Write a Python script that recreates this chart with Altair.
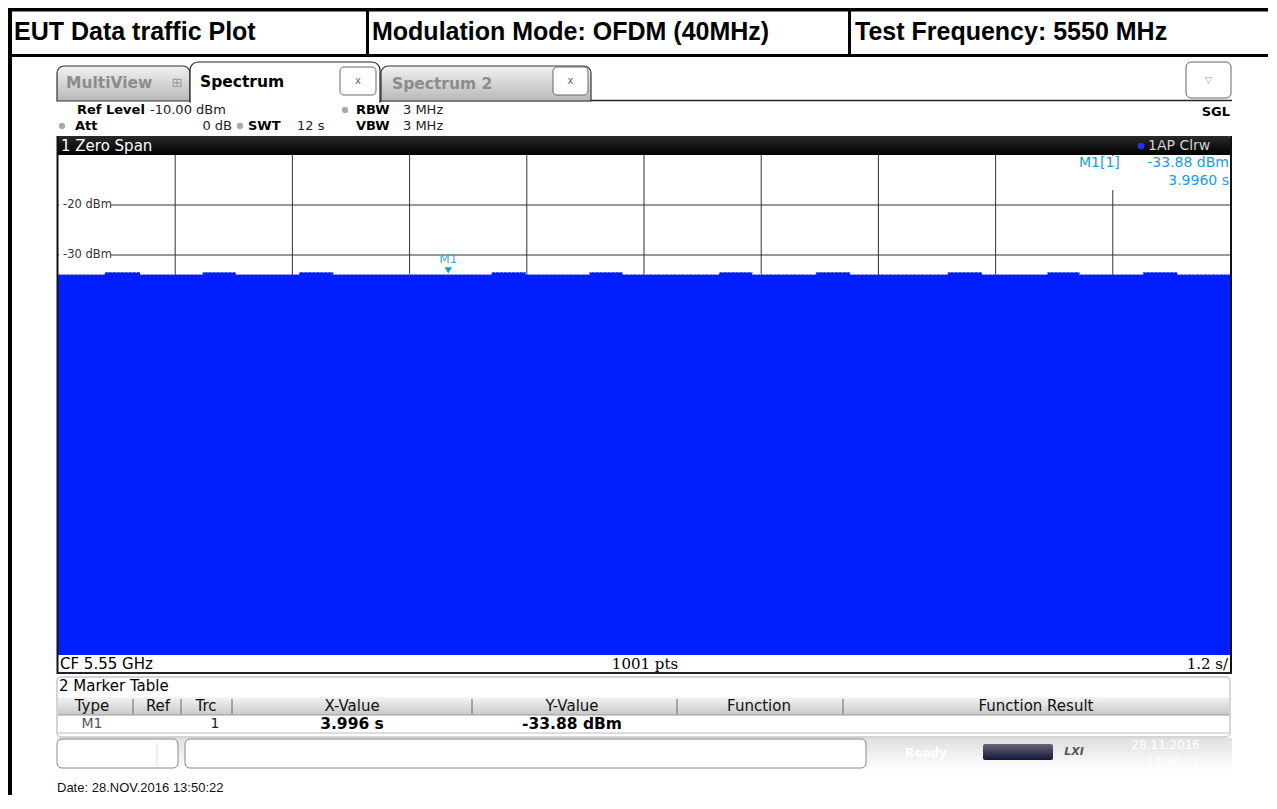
import altair as alt
import pandas as pd

# ---------------- values ----------------
time_span = [0, 12]              # s  (zero span, 1.2 s/div)
level_range = [-110, -10]        # dBm (ref level -10 dBm, 10 dB/div)
x_grid = [1.2, 2.4, 3.6, 4.8, 6.0, 7.2, 8.4, 9.6, 10.8]
y_grid = [-20, -30, -40, -50, -60, -70, -80, -90, -100]
y_label_vals = [-20, -30]
y_label_text = ["-20 dBm", "-30 dBm"]
base_level = -33.88
burst_level = -33.45
burst_start = [0.48, 1.48, 2.47, 4.44, 5.44, 6.77, 7.76, 9.11, 10.13, 11.11]
burst_end = [0.84, 1.82, 2.82, 4.79, 5.78, 7.11, 8.11, 9.46, 10.46, 11.46]
marker_name = ["M1"]
marker_time = [3.996]
marker_level = [-33.88]

header_cells = ["EUT Data traffic Plot", "Modulation Mode: OFDM (40MHz)", "Test Frequency: 5550 MHz"]
table_headers = ["Type", "Ref", "Trc", "X-Value", "Y-Value", "Function", "Function Result"]
table_row = ["M1", "", "1", "3.996 s", "-33.88 dBm", "", ""]

# ---------------- trace table ----------------
t_vals, v_vals = [time_span[0]], [base_level]
for s, e in zip(burst_start, burst_end):
    t_vals += [s, s, e, e]
    v_vals += [base_level, burst_level, burst_level, base_level]
t_vals.append(time_span[1])
v_vals.append(base_level)
trace = pd.DataFrame({"t": t_vals, "v": v_vals})
marker = pd.DataFrame({"name": marker_name, "t": marker_time, "v": marker_level})

X = alt.X("t:Q", scale=alt.Scale(domain=time_span, nice=False, zero=False), axis=None)
Y = alt.Y("v:Q", scale=alt.Scale(domain=level_range, nice=False, zero=False), axis=None)

# ---------------- helpers for the instrument chrome (page pixels) ----------------
OX, OY = 58, 155
one = pd.DataFrame({"k": [0]})
UI = "DejaVu Sans"
HEAD = "Liberation Sans"


def R(x1, y1, x2, y2, **kw):
    return alt.Chart(one).mark_rect(**kw).encode(
        x=alt.value(x1 - OX), x2=alt.value(x2 - OX),
        y=alt.value(y1 - OY), y2=alt.value(y2 - OY))


def L(x1, y1, x2, y2, color="#000", w=1, **kw):
    return alt.Chart(one).mark_rule(color=color, strokeWidth=w, **kw).encode(
        x=alt.value(x1 - OX), x2=alt.value(x2 - OX),
        y=alt.value(y1 - OY), y2=alt.value(y2 - OY))


def T(x, y, s, size=13, color="#000", weight="normal", align="left", font=UI, **kw):
    return alt.Chart(one).mark_text(text=s, fontSize=size, color=color, fontWeight=weight,
                                    align=align, baseline="middle", font=font, **kw).encode(
        x=alt.value(x - OX), y=alt.value(y - OY))


def D(x, y, color="#aaa", size=40):
    return alt.Chart(one).mark_point(filled=True, color=color, size=size, opacity=1).encode(
        x=alt.value(x - OX), y=alt.value(y - OY))


def grad(c1, c2):
    return alt.LinearGradient(gradient="linear", x1=0, x2=0, y1=0, y2=1,
                              stops=[alt.GradientStop(color=c1, offset=0),
                                     alt.GradientStop(color=c2, offset=1)])


layers = []

# header table
layers += [
    L(8, 9.5, 1268, 9.5, w=4),
    L(8, 55.5, 1268, 55.5, w=3),
    L(10, 8, 10, 800, w=4),
    L(367.5, 8, 367.5, 57, w=3),
    L(849.5, 8, 849.5, 57, w=3),
    T(14, 32, header_cells[0], size=25, weight="bold", font=HEAD),
    T(372, 32, header_cells[1], size=25, weight="bold", font=HEAD),
    T(855, 32, header_cells[2], size=25, weight="bold", font=HEAD),
]

# tabs
layers += [
    L(380, 100.5, 1232, 100.5, color="#222", w=1.5),
    R(57, 66, 190, 101, fill=grad("#f2f2f2", "#b8b8b8"), stroke="#333", strokeWidth=1.2,
      cornerRadiusTopLeft=7, cornerRadiusTopRight=7),
    T(66, 83, "MultiView", size=15.5, weight="bold", color="#8c8c8c"),
    T(177, 83, "⊞", size=13, color="#9a9a9a", align="center"),
    R(381, 66, 591, 101, fill=grad("#f2f2f2", "#b8b8b8"), stroke="#333", strokeWidth=1.2,
      cornerRadiusTopLeft=7, cornerRadiusTopRight=7),
    T(392, 84, "Spectrum 2", size=15.5, weight="bold", color="#8c8c8c"),
    R(553, 67, 588, 95, fill="white", stroke="#666", cornerRadius=4),
    T(570.5, 81, "x", size=10, color="#666", align="center"),
    R(190, 62, 380, 102, fill="white", stroke="#222", strokeWidth=1.2,
      cornerRadiusTopLeft=8, cornerRadiusTopRight=8),
    R(191, 99, 379, 103, fill="white"),
    T(200, 82, "Spectrum", size=15.5, weight="bold", color="#000"),
    R(340, 67, 376, 95, fill="white", stroke="#666", cornerRadius=4),
    T(358, 81, "x", size=10, color="#666", align="center"),
    R(1186, 62, 1231, 98, fill="white", stroke="#666", cornerRadius=5),
    T(1208.5, 80, "▽", size=9, color="#999", align="center"),
]

# setting info
layers += [
    T(77, 110, "Ref Level", size=13, weight="bold"),
    T(150, 110, "-10.00 dBm", size=13, color="#222"),
    D(62, 126), T(75, 126, "Att", size=13, weight="bold"),
    T(232, 126, "0 dB", size=13, color="#222", align="right"),
    D(240, 126), T(248, 126, "SWT", size=13, weight="bold"),
    T(297, 126, "12 s", size=13, color="#222"),
    D(345, 110), T(356, 110, "RBW", size=13, weight="bold"),
    T(403, 110, "3 MHz", size=13, color="#222"),
    T(356, 126, "VBW", size=13, weight="bold"),
    T(403, 126, "3 MHz", size=13, color="#222"),
    T(1230, 112, "SGL", size=13, weight="bold", align="right"),
]

# black title bar of the diagram
layers += [
    R(57, 136, 1232, 155, fill=grad("#2a2a2a", "#000000"), cornerRadiusTopRight=4),
    T(61, 146, "1 Zero Span", size=15, color="white"),
    D(1141, 146, color="#2030ff", size=45),
    T(1148, 146, "1AP Clrw", size=14, color="#d0d0d0"),
]

# grid
grid_x = alt.Chart(pd.DataFrame({"t": x_grid})).mark_rule(color="#333", strokeWidth=1).encode(x=X)
grid_y = alt.Chart(pd.DataFrame({"v": y_grid})).mark_rule(color="#333", strokeWidth=1).encode(y=Y)
lab_df = pd.DataFrame({"v": y_label_vals, "s": y_label_text})
lab_bg = alt.Chart(lab_df).mark_rule(color="white", strokeWidth=12).encode(
    y=Y, x=alt.value(1), x2=alt.value(53))
lab_tx = alt.Chart(lab_df).mark_text(align="left", baseline="middle", fontSize=11.5,
                                     color="#333", font=UI).encode(
    y=Y, x=alt.value(5), text="s:N")
layers += [grid_x, grid_y, lab_bg, lab_tx]

# marker readout box
layers += [
    R(1066, 156, 1229, 190, fill="white"),
    T(1079, 163, "M1[1]", size=14, color="#1b9be0"),
    T(1229, 163, "-33.88 dBm", size=14, color="#1b9be0", align="right"),
    T(1229, 181, "3.9960 s", size=14, color="#1b9be0", align="right"),
]

# trace
area = alt.Chart(trace).mark_area(color="#001eff", clip=True, opacity=1).encode(
    x=X, y=Y, y2=alt.datum(level_range[0]))
top_dots = alt.Chart(trace).mark_line(color="white", strokeDash=[1, 3], strokeWidth=1,
                                      clip=True, opacity=0.7).encode(x=X, y=Y)
m_tri = alt.Chart(marker).mark_point(shape="triangle-down", filled=True, size=55,
                                     color="#1b9be0", opacity=1).encode(
    x=X, y=Y, yOffset=alt.value(-4))
m_txt = alt.Chart(marker).mark_text(fontSize=12, color="#3aa6e6", font=UI, dy=-15).encode(
    x=X, y=Y, text="name:N")
layers += [area, top_dots, m_tri, m_txt]

# frame and bottom info row
layers += [
    R(58, 655, 1230, 673, fill="white"),
    L(57.5, 136, 57.5, 674, color="#111", w=2),
    L(1231, 136, 1231, 674, color="#111", w=2),
    L(57, 673, 1232, 673, color="#222", w=2),
    T(60, 664, "CF 5.55 GHz", size=15, color="#000"),
    T(645, 664, "1001 pts", size=15, color="#000", align="center", font="DejaVu Serif"),
    T(1228, 664, "1.2 s/", size=15, color="#000", align="right", font="DejaVu Serif"),
]

# marker table
table_cx = [92, 158, 206, 352, 572, 759, 1036]
table_div = [133, 181, 232, 472, 677, 843]
layers += [
    R(57, 677, 1230, 737, fill="white", stroke="#aaa", cornerRadius=4),
    T(59, 686, "2 Marker Table", size=15, color="#000"),
    R(58, 697, 1229, 715, fill=grad("#f4f4f4", "#c8c8c8")),
    L(58, 715, 1229, 715, color="#999", w=1),
    L(58, 733, 1229, 733, color="#bbb", w=1),
]
for xd in table_div:
    layers.append(L(xd, 699, xd, 714, color="#666", w=1))
for cx, h in zip(table_cx, table_headers):
    layers.append(T(cx, 705.5, h, size=15, color="#111", align="center"))
row_style = [dict(color="#555"), {}, dict(color="#222"),
             dict(weight="bold", size=15.5),
             dict(weight="bold", size=15.5), {}, {}]
row_x = [92, 158, 215, 352, 572, 759, 1036]
for cx, s, st in zip(row_x, table_row, row_style):
    if s:
        kw = dict(size=14, color="#000", align="center")
        kw.update(st)
        layers.append(T(cx, 724, s, **kw))

# status bar
layers += [
    R(57, 738, 1232, 771, fill=grad("#e0e0e0", "#ffffff")),
    R(57, 739, 178, 768, fill="white", stroke="#888", cornerRadius=5),
    L(157, 742, 157, 765, color="#ddd", w=1),
    R(185, 739, 866, 768, fill="white", stroke="#888", cornerRadius=5),
    T(905, 753, "Ready", size=12, color="white", weight="bold"),
    R(983, 744, 1053, 760, fill=grad("#666677", "#15153a"), cornerRadius=2),
    T(1074, 752, "LXI", size=11, color="#555", weight="bold", align="center", fontStyle="italic"),
    T(1200, 745, "28.11.2016", size=12, color="white", align="right"),
    T(1200, 762, "13:50:22", size=12, color="white", align="right"),
]

# date line
layers += [
    T(57, 788, "Date: 28.NOV.2016  13:50:22", size=13, color="#111", font="Liberation Sans"),
]

chart = alt.layer(*layers).properties(
    width=1172, height=500,
    padding={"left": 50, "top": 147, "right": 38, "bottom": 140},
    autosize=alt.AutoSizeParams(type="none"),
    background="white",
).configure_view(strokeWidth=0)

chart.save("out.html", embed_options={"renderer": "svg", "actions": False})
